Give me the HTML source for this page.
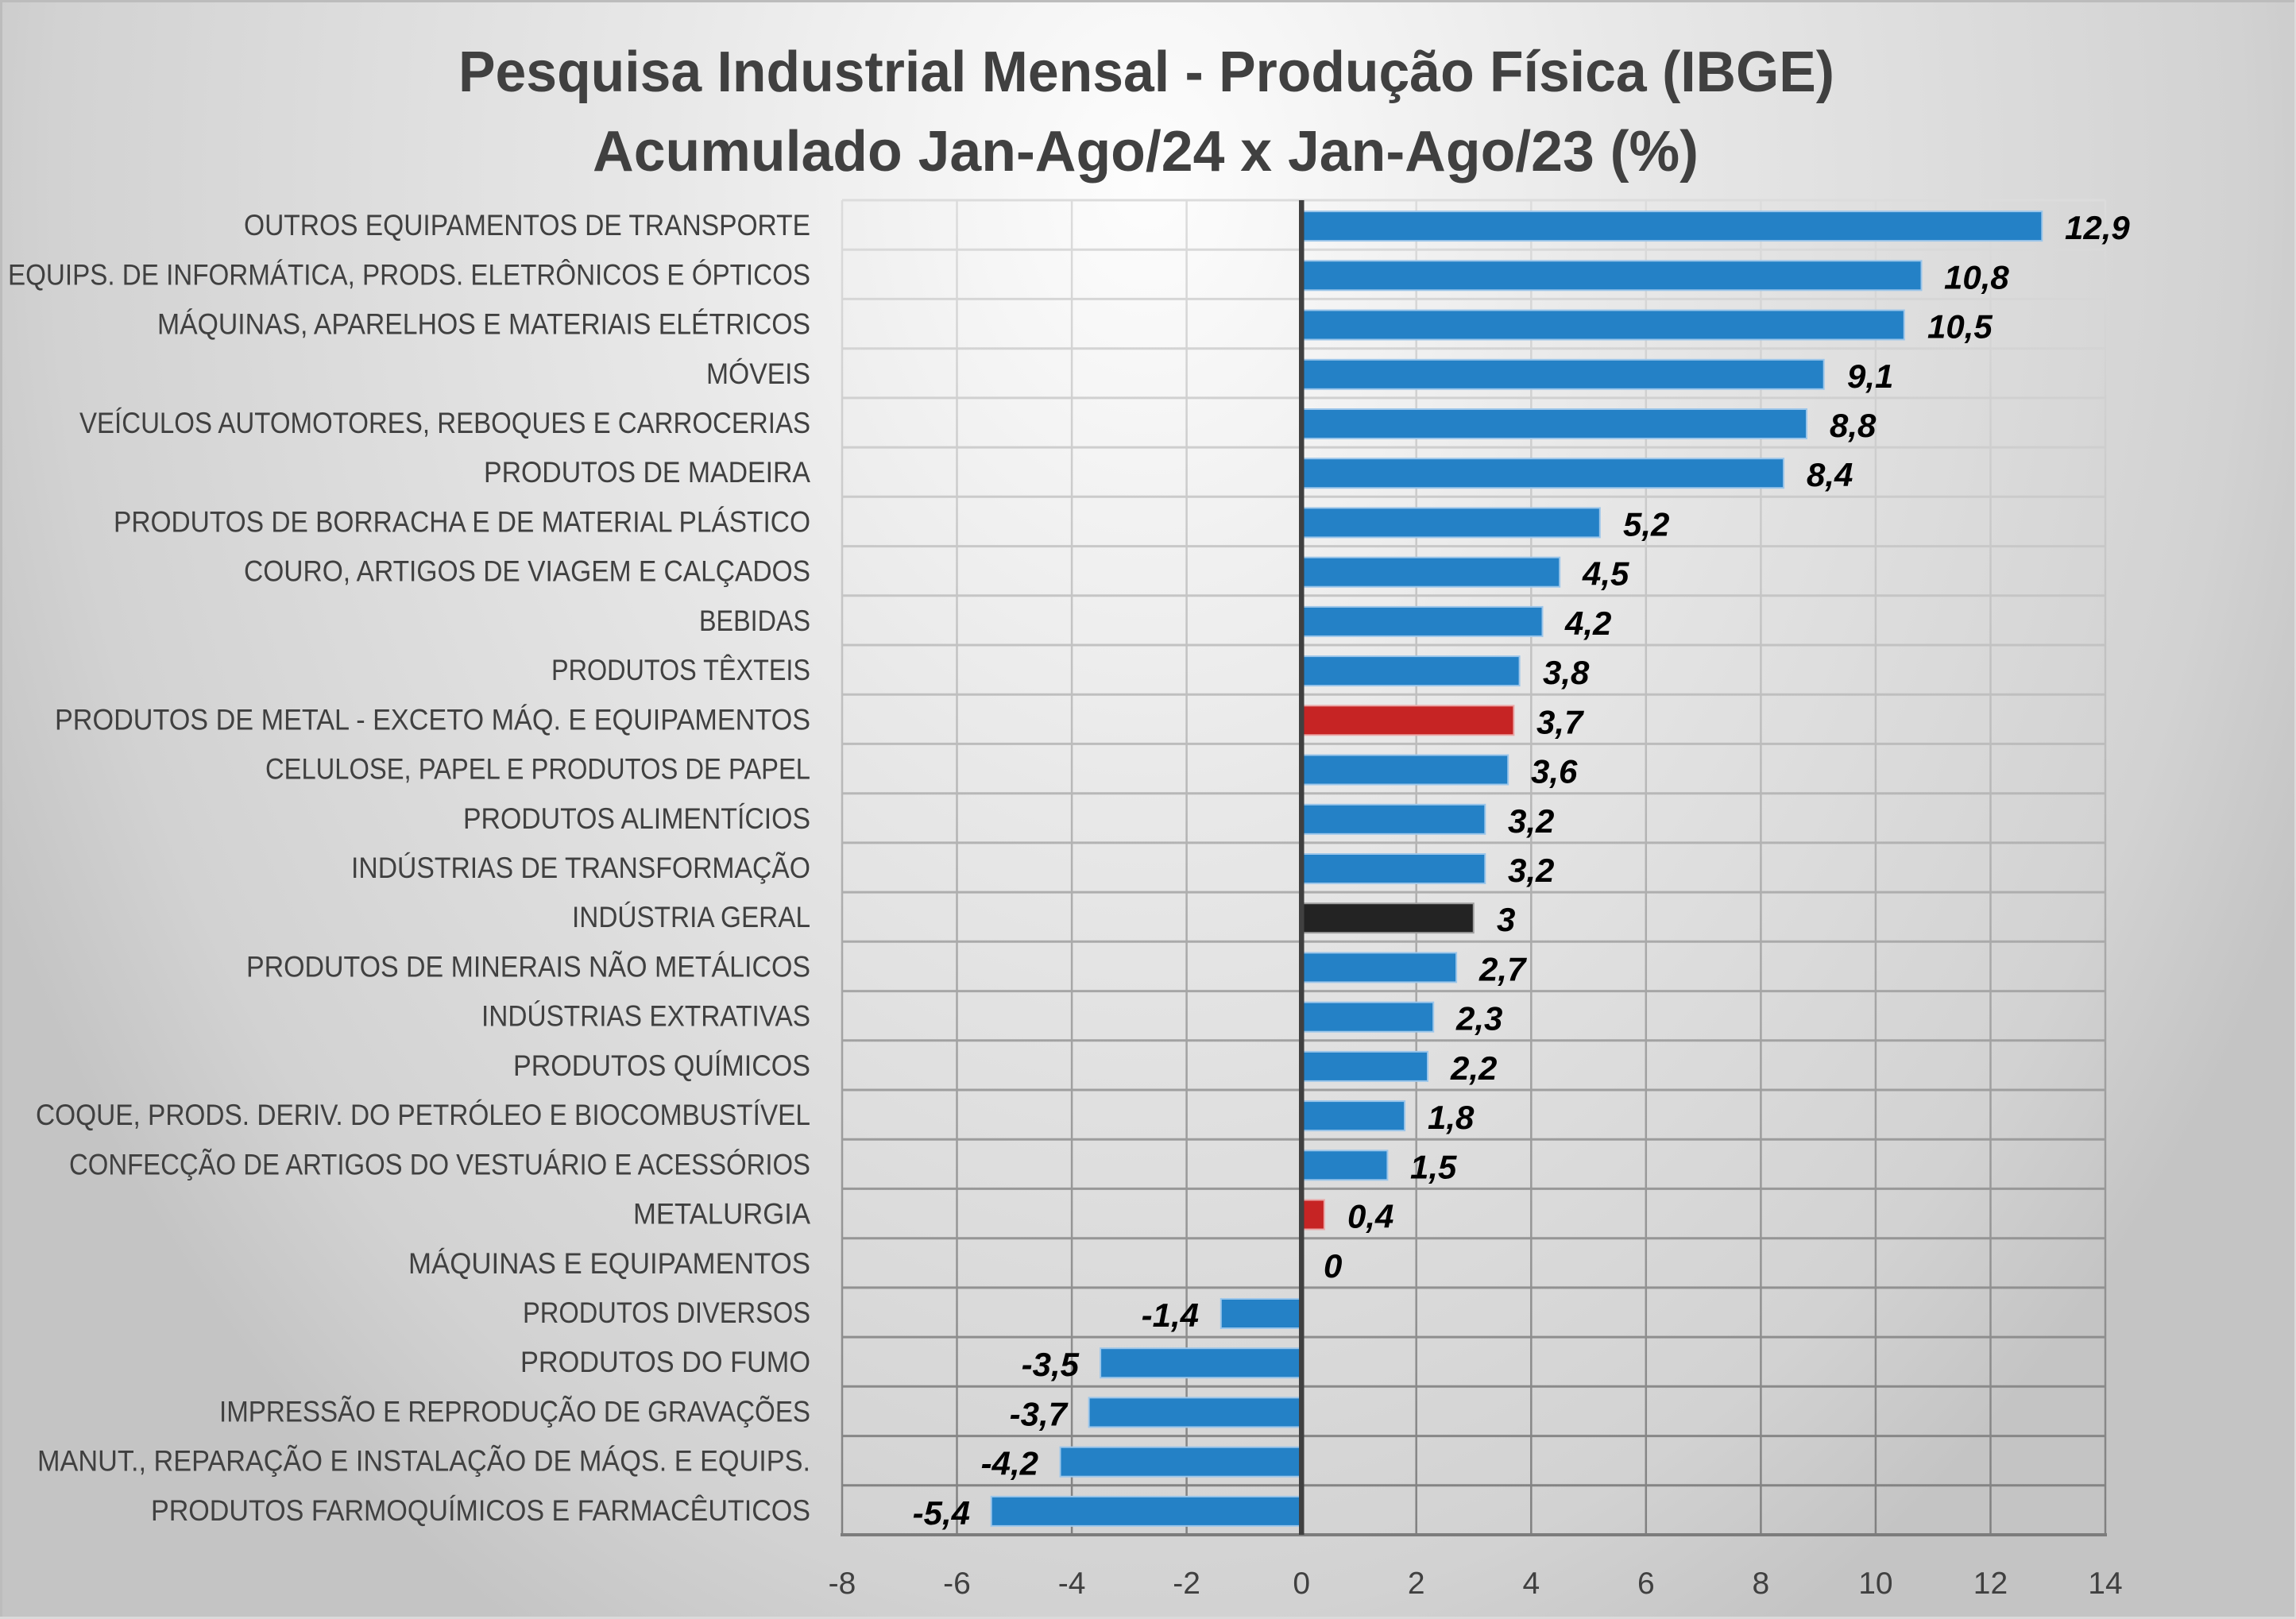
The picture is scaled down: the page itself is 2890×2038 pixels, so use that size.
<!DOCTYPE html>
<html>
<head>
<meta charset="utf-8">
<style>
html,body{margin:0;padding:0;background:#e0e0e0;}
svg{display:block;}
.cat{font-family:"Liberation Sans",sans-serif;font-size:37px;fill:#404040;}
.val{font-family:"Liberation Sans",sans-serif;font-size:42px;font-weight:bold;font-style:italic;fill:#000;}
.tick{font-family:"Liberation Sans",sans-serif;font-size:39px;fill:#404040;}
.title{font-family:"Liberation Sans",sans-serif;font-size:72px;font-weight:bold;fill:#404040;}
</style>
</head>
<body>
<svg width="2890" height="2038" viewBox="0 0 2890 2038" xmlns="http://www.w3.org/2000/svg">
<defs>
<radialGradient id="bg" gradientUnits="userSpaceOnUse" cx="0" cy="0" r="1" gradientTransform="translate(1445,230) scale(1600,2100)">
<stop offset="0" stop-color="#fdfdfd"/>
<stop offset="0.38" stop-color="#e8e8e8"/>
<stop offset="0.86" stop-color="#d2d2d2"/>
<stop offset="0.95" stop-color="#c9c9c9"/>
<stop offset="1" stop-color="#c4c4c4"/>
</radialGradient>
<linearGradient id="gl" gradientUnits="userSpaceOnUse" x1="0" y1="252" x2="0" y2="1932">
<stop offset="0" stop-color="#dcdcdc"/>
<stop offset="0.4" stop-color="#bdbdbd"/>
<stop offset="0.55" stop-color="#aaaaaa"/>
<stop offset="1" stop-color="#808080"/>
</linearGradient>
</defs>
<rect x="0" y="0" width="2890" height="2038" fill="url(#bg)"/>
<rect x="0" y="0" width="2890" height="3" fill="#bcbcbc"/>
<rect x="0" y="0" width="3" height="2038" fill="#bcbcbc"/>
<rect x="0" y="2035" width="2890" height="3" fill="#dadada"/>
<rect x="2888" y="0" width="2" height="2038" fill="#dcdcdc"/>

<text class="title" x="577" y="115" textLength="1732" lengthAdjust="spacingAndGlyphs">Pesquisa Industrial Mensal - Produção Física (IBGE)</text>
<text class="title" x="746" y="215" textLength="1392" lengthAdjust="spacingAndGlyphs">Acumulado Jan-Ago/24 x Jan-Ago/23 (%)</text>

<g stroke="url(#gl)" stroke-width="2.5" fill="none">
<line x1="1060" y1="252" x2="1060" y2="1932"/>
<line x1="1204.5" y1="252" x2="1204.5" y2="1932"/>
<line x1="1349.1" y1="252" x2="1349.1" y2="1932"/>
<line x1="1493.6" y1="252" x2="1493.6" y2="1932"/>
<line x1="1782.7" y1="252" x2="1782.7" y2="1932"/>
<line x1="1927.3" y1="252" x2="1927.3" y2="1932"/>
<line x1="2071.8" y1="252" x2="2071.8" y2="1932"/>
<line x1="2216.4" y1="252" x2="2216.4" y2="1932"/>
<line x1="2360.9" y1="252" x2="2360.9" y2="1932"/>
<line x1="2505.5" y1="252" x2="2505.5" y2="1932"/>
<line x1="2650" y1="252" x2="2650" y2="1932"/>
</g>
<g stroke="url(#gl)" stroke-width="3" fill="none">
<line x1="1060" y1="252" x2="2650" y2="252"/>
<line x1="1060" y1="314.2" x2="2650" y2="314.2"/>
<line x1="1060" y1="376.4" x2="2650" y2="376.4"/>
<line x1="1060" y1="438.7" x2="2650" y2="438.7"/>
<line x1="1060" y1="500.9" x2="2650" y2="500.9"/>
<line x1="1060" y1="563.1" x2="2650" y2="563.1"/>
<line x1="1060" y1="625.3" x2="2650" y2="625.3"/>
<line x1="1060" y1="687.6" x2="2650" y2="687.6"/>
<line x1="1060" y1="749.8" x2="2650" y2="749.8"/>
<line x1="1060" y1="812" x2="2650" y2="812"/>
<line x1="1060" y1="874.2" x2="2650" y2="874.2"/>
<line x1="1060" y1="936.4" x2="2650" y2="936.4"/>
<line x1="1060" y1="998.7" x2="2650" y2="998.7"/>
<line x1="1060" y1="1060.9" x2="2650" y2="1060.9"/>
<line x1="1060" y1="1123.1" x2="2650" y2="1123.1"/>
<line x1="1060" y1="1185.3" x2="2650" y2="1185.3"/>
<line x1="1060" y1="1247.6" x2="2650" y2="1247.6"/>
<line x1="1060" y1="1309.8" x2="2650" y2="1309.8"/>
<line x1="1060" y1="1372" x2="2650" y2="1372"/>
<line x1="1060" y1="1434.2" x2="2650" y2="1434.2"/>
<line x1="1060" y1="1496.4" x2="2650" y2="1496.4"/>
<line x1="1060" y1="1558.7" x2="2650" y2="1558.7"/>
<line x1="1060" y1="1620.9" x2="2650" y2="1620.9"/>
<line x1="1060" y1="1683.1" x2="2650" y2="1683.1"/>
<line x1="1060" y1="1745.3" x2="2650" y2="1745.3"/>
<line x1="1060" y1="1807.6" x2="2650" y2="1807.6"/>
<line x1="1060" y1="1869.8" x2="2650" y2="1869.8"/>
</g>
<line x1="1058" y1="1932" x2="2652" y2="1932" stroke="#7c7c7c" stroke-width="4"/>

<!-- bars -->
<g stroke-width="2">
<rect x="1638" y="266.1" width="932.3" height="37" fill="#2481c6" stroke="#9cc6ea"/>
<rect x="1638" y="328.3" width="780.5" height="37" fill="#2481c6" stroke="#9cc6ea"/>
<rect x="1638" y="390.5" width="758.8" height="37" fill="#2481c6" stroke="#9cc6ea"/>
<rect x="1638" y="452.8" width="657.7" height="37" fill="#2481c6" stroke="#9cc6ea"/>
<rect x="1638" y="515.0" width="636.0" height="37" fill="#2481c6" stroke="#9cc6ea"/>
<rect x="1638" y="577.2" width="607.1" height="37" fill="#2481c6" stroke="#9cc6ea"/>
<rect x="1638" y="639.4" width="375.8" height="37" fill="#2481c6" stroke="#9cc6ea"/>
<rect x="1638" y="701.7" width="325.2" height="37" fill="#2481c6" stroke="#9cc6ea"/>
<rect x="1638" y="763.9" width="303.5" height="37" fill="#2481c6" stroke="#9cc6ea"/>
<rect x="1638" y="826.1" width="274.6" height="37" fill="#2481c6" stroke="#9cc6ea"/>
<rect x="1638" y="888.3" width="267.4" height="37" fill="#c62424" stroke="#eaa7a7"/>
<rect x="1638" y="950.5" width="260.2" height="37" fill="#2481c6" stroke="#9cc6ea"/>
<rect x="1638" y="1012.8" width="231.3" height="37" fill="#2481c6" stroke="#9cc6ea"/>
<rect x="1638" y="1075.0" width="231.3" height="37" fill="#2481c6" stroke="#9cc6ea"/>
<rect x="1638" y="1137.2" width="216.8" height="37" fill="#232323" stroke="#a0a0a0"/>
<rect x="1638" y="1199.4" width="195.1" height="37" fill="#2481c6" stroke="#9cc6ea"/>
<rect x="1638" y="1261.7" width="166.2" height="37" fill="#2481c6" stroke="#9cc6ea"/>
<rect x="1638" y="1323.9" width="159.0" height="37" fill="#2481c6" stroke="#9cc6ea"/>
<rect x="1638" y="1386.1" width="130.1" height="37" fill="#2481c6" stroke="#9cc6ea"/>
<rect x="1638" y="1448.3" width="108.4" height="37" fill="#2481c6" stroke="#9cc6ea"/>
<rect x="1638" y="1510.5" width="28.9" height="37" fill="#c62424" stroke="#eaa7a7"/>
<rect x="1536.8" y="1635.0" width="101.2" height="37" fill="#2481c6" stroke="#9cc6ea"/>
<rect x="1385.1" y="1697.2" width="252.9" height="37" fill="#2481c6" stroke="#9cc6ea"/>
<rect x="1370.6" y="1759.4" width="267.4" height="37" fill="#2481c6" stroke="#9cc6ea"/>
<rect x="1334.5" y="1821.7" width="303.5" height="37" fill="#2481c6" stroke="#9cc6ea"/>
<rect x="1247.7" y="1883.9" width="390.3" height="37" fill="#2481c6" stroke="#9cc6ea"/>
</g>

<!-- zero axis -->
<rect x="1635" y="252" width="6.5" height="1680" fill="#404040"/>

<!-- value labels -->
<g class="val">
<text x="2599" y="301.1">12,9</text>
<text x="2447" y="363.3">10,8</text>
<text x="2426" y="425.5">10,5</text>
<text x="2325" y="487.8">9,1</text>
<text x="2303" y="550.0">8,8</text>
<text x="2274" y="612.2">8,4</text>
<text x="2043" y="674.4">5,2</text>
<text x="1992" y="736.7">4,5</text>
<text x="1970" y="798.9">4,2</text>
<text x="1942" y="861.1">3,8</text>
<text x="1934" y="923.3">3,7</text>
<text x="1927" y="985.5">3,6</text>
<text x="1898" y="1047.8">3,2</text>
<text x="1898" y="1110.0">3,2</text>
<text x="1884" y="1172.2">3</text>
<text x="1862" y="1234.4">2,7</text>
<text x="1833" y="1296.7">2,3</text>
<text x="1826" y="1358.9">2,2</text>
<text x="1797" y="1421.1">1,8</text>
<text x="1775" y="1483.3">1,5</text>
<text x="1696" y="1545.5">0,4</text>
<text x="1666" y="1607.8">0</text>
<text x="1509" y="1670.0" text-anchor="end">-1,4</text>
<text x="1358" y="1732.2" text-anchor="end">-3,5</text>
<text x="1343" y="1794.4" text-anchor="end">-3,7</text>
<text x="1307" y="1856.7" text-anchor="end">-4,2</text>
<text x="1221" y="1918.9" text-anchor="end">-5,4</text>
</g>

<!-- category labels -->
<g class="cat" text-anchor="end">
<text x="1020" y="296.1" textLength="713" lengthAdjust="spacingAndGlyphs">OUTROS EQUIPAMENTOS DE TRANSPORTE</text>
<text x="1020" y="358.3" textLength="1010" lengthAdjust="spacingAndGlyphs">EQUIPS. DE INFORMÁTICA, PRODS. ELETRÔNICOS E ÓPTICOS</text>
<text x="1020" y="420.5" textLength="822" lengthAdjust="spacingAndGlyphs">MÁQUINAS, APARELHOS E MATERIAIS ELÉTRICOS</text>
<text x="1020" y="482.8" textLength="131" lengthAdjust="spacingAndGlyphs">MÓVEIS</text>
<text x="1020" y="545.0" textLength="920" lengthAdjust="spacingAndGlyphs">VEÍCULOS AUTOMOTORES, REBOQUES E CARROCERIAS</text>
<text x="1020" y="607.2" textLength="411" lengthAdjust="spacingAndGlyphs">PRODUTOS DE MADEIRA</text>
<text x="1020" y="669.4" textLength="877" lengthAdjust="spacingAndGlyphs">PRODUTOS DE BORRACHA E DE MATERIAL PLÁSTICO</text>
<text x="1020" y="731.7" textLength="713" lengthAdjust="spacingAndGlyphs">COURO, ARTIGOS DE VIAGEM E CALÇADOS</text>
<text x="1020" y="793.9" textLength="140" lengthAdjust="spacingAndGlyphs">BEBIDAS</text>
<text x="1020" y="856.1" textLength="326" lengthAdjust="spacingAndGlyphs">PRODUTOS TÊXTEIS</text>
<text x="1020" y="918.3" textLength="951" lengthAdjust="spacingAndGlyphs">PRODUTOS DE METAL - EXCETO MÁQ. E EQUIPAMENTOS</text>
<text x="1020" y="980.5" textLength="686" lengthAdjust="spacingAndGlyphs">CELULOSE, PAPEL E PRODUTOS DE PAPEL</text>
<text x="1020" y="1042.8" textLength="437" lengthAdjust="spacingAndGlyphs">PRODUTOS ALIMENTÍCIOS</text>
<text x="1020" y="1105.0" textLength="578" lengthAdjust="spacingAndGlyphs">INDÚSTRIAS DE TRANSFORMAÇÃO</text>
<text x="1020" y="1167.2" textLength="300" lengthAdjust="spacingAndGlyphs">INDÚSTRIA GERAL</text>
<text x="1020" y="1229.4" textLength="710" lengthAdjust="spacingAndGlyphs">PRODUTOS DE MINERAIS NÃO METÁLICOS</text>
<text x="1020" y="1291.7" textLength="414" lengthAdjust="spacingAndGlyphs">INDÚSTRIAS EXTRATIVAS</text>
<text x="1020" y="1353.9" textLength="374" lengthAdjust="spacingAndGlyphs">PRODUTOS QUÍMICOS</text>
<text x="1020" y="1416.1" textLength="975" lengthAdjust="spacingAndGlyphs">COQUE, PRODS. DERIV. DO PETRÓLEO E BIOCOMBUSTÍVEL</text>
<text x="1020" y="1478.3" textLength="933" lengthAdjust="spacingAndGlyphs">CONFECÇÃO DE ARTIGOS DO VESTUÁRIO E ACESSÓRIOS</text>
<text x="1020" y="1540.5" textLength="223" lengthAdjust="spacingAndGlyphs">METALURGIA</text>
<text x="1020" y="1602.8" textLength="506" lengthAdjust="spacingAndGlyphs">MÁQUINAS E EQUIPAMENTOS</text>
<text x="1020" y="1665.0" textLength="362" lengthAdjust="spacingAndGlyphs">PRODUTOS DIVERSOS</text>
<text x="1020" y="1727.2" textLength="365" lengthAdjust="spacingAndGlyphs">PRODUTOS DO FUMO</text>
<text x="1020" y="1789.4" textLength="744" lengthAdjust="spacingAndGlyphs">IMPRESSÃO E REPRODUÇÃO DE GRAVAÇÕES</text>
<text x="1020" y="1851.7" textLength="973" lengthAdjust="spacingAndGlyphs">MANUT., REPARAÇÃO E INSTALAÇÃO DE MÁQS. E EQUIPS.</text>
<text x="1020" y="1913.9" textLength="830" lengthAdjust="spacingAndGlyphs">PRODUTOS FARMOQUÍMICOS E FARMACÊUTICOS</text>
</g>

<!-- x tick labels -->
<g class="tick" text-anchor="middle">
<text x="1060" y="2006">-8</text>
<text x="1204.5" y="2006">-6</text>
<text x="1349.1" y="2006">-4</text>
<text x="1493.6" y="2006">-2</text>
<text x="1638.2" y="2006">0</text>
<text x="1782.7" y="2006">2</text>
<text x="1927.3" y="2006">4</text>
<text x="2071.8" y="2006">6</text>
<text x="2216.4" y="2006">8</text>
<text x="2360.9" y="2006">10</text>
<text x="2505.5" y="2006">12</text>
<text x="2650" y="2006">14</text>
</g>
</svg>
</body>
</html>
